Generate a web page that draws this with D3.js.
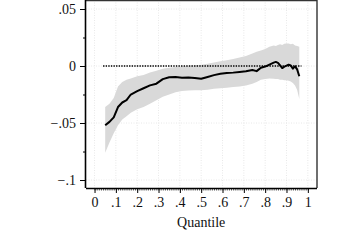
<!DOCTYPE html>
<html>
<head>
<meta charset="utf-8">
<script src="https://cdn.jsdelivr.net/npm/d3@7"></script>
<style>
  body { margin: 0; background: #fff; }
  svg { display: block; }
</style>
</head>
<body>
<script>
// quantiles where the estimate was read
const quantiles = [.05,.07,.09,.11,.13,.15,.17,.20,.23,.26,.29,.32,.35,.38,.41,.44,.47,.50,.53,.56,.59,.62,.65,.68,.71,.74,.76,.78,.80,.82,.84,.85,.86,.87,.88,.89,.90,.91,.92,.93,.94,.95,.96];
// point estimate
const estimate = [-0.052,-0.049,-0.045,-0.036,-0.032,-0.030,-0.025,-0.022,-0.0195,-0.017,-0.0155,-0.0115,-0.0098,-0.0097,-0.0102,-0.0100,-0.0105,-0.0112,-0.0096,-0.008,-0.0068,-0.0062,-0.0058,-0.0052,-0.0046,-0.0035,-0.0045,-0.0015,-0.0005,0.0012,0.003,0.0036,0.0028,0.0005,-0.0018,-0.0005,0.0003,0.0012,0.0005,-0.0023,-0.0003,-0.003,-0.009];
// confidence band
const upper = [-0.036,-0.033,-0.028,-0.018,-0.014,-0.012,-0.011,-0.009,-0.0078,-0.0058,-0.0042,-0.0025,-0.0015,-0.0008,-0.0003,0.0002,0.0007,0.0012,0.002,0.003,0.0042,0.005,0.0062,0.0075,0.0088,0.011,0.0125,0.0135,0.015,0.017,0.018,0.0175,0.0185,0.019,0.0185,0.0195,0.0197,0.0198,0.019,0.0195,0.018,0.0175,0.017];
const lower = [-0.076,-0.067,-0.059,-0.052,-0.047,-0.044,-0.041,-0.038,-0.036,-0.033,-0.030,-0.027,-0.025,-0.023,-0.022,-0.0215,-0.0212,-0.0212,-0.0208,-0.020,-0.0195,-0.019,-0.0185,-0.018,-0.017,-0.0155,-0.014,-0.012,-0.0115,-0.011,-0.0112,-0.0113,-0.0115,-0.012,-0.012,-0.0125,-0.0125,-0.013,-0.0135,-0.015,-0.017,-0.021,-0.029];
// axis ticks
const xTicks = [0,.1,.2,.3,.4,.5,.6,.7,.8,.9,1];
const yTicks = [-.1,-.05,0,.05];

const width = 360, height = 240;
const plot = {left: 86, right: 317, top: 0, bottom: 188};
const serif = 'Liberation Serif, Times New Roman, serif';

const svg = d3.select('body').append('svg')
  .attr('width', width)
  .attr('height', height);

const x = d3.scaleLinear().domain([-0.04, 1.043]).range([plot.left, plot.right]);
const y = d3.scaleLinear().domain([-0.107, 0.0579]).range([plot.bottom, plot.top]);

const fmt = d => d === 0 ? '0' : (d < 0 ? '\u2212' : '') + String(Math.abs(d)).replace(/^0/, '');

const data = quantiles.map((q, i) => ({q: q, est: estimate[i], lo: lower[i], hi: upper[i]}));

// grid
const grid = svg.append('g').attr('stroke', '#e2e2e2').attr('stroke-width', 0.8).attr('stroke-dasharray', '1,1.5');
grid.selectAll('.gx').data(xTicks).join('line')
  .attr('x1', d => x(d)).attr('x2', d => x(d))
  .attr('y1', plot.top).attr('y2', plot.bottom);
grid.selectAll('.gy').data(yTicks).join('line')
  .attr('y1', d => y(d)).attr('y2', d => y(d))
  .attr('x1', plot.left).attr('x2', plot.right);

// band
svg.append('path')
  .datum(data)
  .attr('fill', '#d9d9d9')
  .attr('d', d3.area().x(d => x(d.q)).y0(d => y(d.lo)).y1(d => y(d.hi)));

// zero reference
svg.append('line')
  .attr('x1', x(0.04)).attr('x2', x(0.97))
  .attr('y1', y(0)).attr('y2', y(0))
  .attr('stroke', '#000').attr('stroke-width', 1.4)
  .attr('stroke-dasharray', '1.4,1.2');

// estimate
svg.append('path')
  .datum(data)
  .attr('fill', 'none')
  .attr('stroke', '#000')
  .attr('stroke-width', 2)
  .attr('stroke-linejoin', 'round')
  .attr('d', d3.line().x(d => x(d.q)).y(d => y(d.est)));

// frame top/right
svg.append('path')
  .attr('d', `M${plot.left},${plot.top + 0.5}H${plot.right}V${plot.bottom}`)
  .attr('fill', 'none').attr('stroke', '#333').attr('stroke-width', 1.4);

// y axis
const yAxis = svg.append('g')
  .attr('transform', `translate(${plot.left},0)`)
  .call(d3.axisLeft(y).tickValues(yTicks).tickFormat(fmt).tickSize(6).tickPadding(4).tickSizeOuter(0));
svg.append('g')
  .attr('transform', `translate(${plot.left},0)`)
  .call(d3.axisLeft(y).tickValues([-.075,-.025,.025]).tickFormat('').tickSize(3).tickSizeOuter(0))
  .call(g => g.select('.domain').remove());

// x axis
const xAxis = svg.append('g')
  .attr('transform', `translate(0,${plot.bottom})`)
  .call(d3.axisBottom(x).tickValues(xTicks).tickFormat(fmt).tickSize(5).tickPadding(4).tickSizeOuter(0));
svg.append('g')
  .attr('transform', `translate(0,${plot.bottom})`)
  .call(d3.axisBottom(x).tickValues(d3.range(0, 101).map(i => i / 100)).tickFormat('').tickSize(2.5).tickSizeOuter(0))
  .call(g => g.select('.domain').remove())
  .selectAll('line').attr('stroke-width', 0.7);

svg.selectAll('.domain').attr('stroke', '#000').attr('stroke-width', 1.6);
svg.selectAll('.tick text')
  .attr('font-family', serif)
  .attr('font-size', 14)
  .attr('fill', '#111');

xAxis.select('.domain').attr('d', `M${plot.left},0.5H${plot.right}`);
yAxis.select('.domain').attr('d', `M-0.5,${plot.top}V${plot.bottom}`);

// axis title
svg.append('text')
  .attr('x', x(0.5))
  .attr('y', 227)
  .attr('text-anchor', 'middle')
  .attr('font-family', serif)
  .attr('font-size', 14)
  .attr('fill', '#111')
  .text('Quantile');
</script>
</body>
</html>
